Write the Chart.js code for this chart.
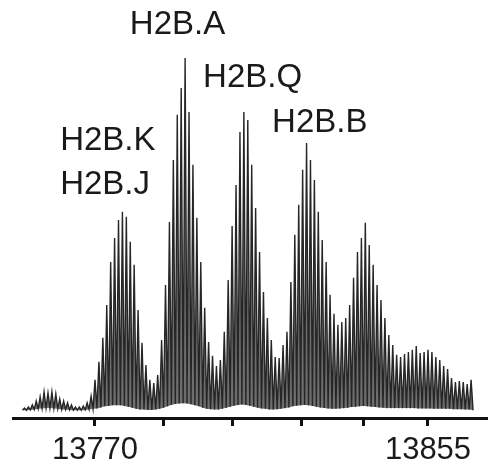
<!DOCTYPE html>
<html>
<head>
<meta charset="utf-8">
<script src="https://cdn.jsdelivr.net/npm/chart.js@4.4.1/dist/chart.umd.min.js"></script>
<style>
  html, body { margin: 0; padding: 0; background: #fff; }
  #wrap { width: 489px; height: 464px; position: relative; }
</style>
</head>
<body>
<div id="wrap"><canvas id="spec"></canvas></div>
<script>
// isotope peaks, 1 Da apart, starting mass
const firstMass = 13752;
// relative intensity (%) of each isotope peak
const peaks = [
  0.8, 1.1, 1.7, 2.8, 4.0, 5.4, 5.1, 5.4, 4.8, 3.4, 2.8, 2.3, 1.7, 1.1, 1.1, 1.4, 2.3,
  4.2, 8.8, 13.9, 20.7, 30.0, 42.2, 49.0, 54.1, 56.4, 55.0, 47.9, 41.4, 28.6, 19.3, 13.0, 8.8, 7.9, 10.2, 20.1,
  35.7, 53.5, 71.1, 83.9, 91.5, 100, 84.7, 69.7, 54.7, 42.2, 29.2, 19.5, 15.6, 12.7, 14.4,
  22.4, 37.1, 52.4, 64.0, 79.0, 84.7, 82.4, 69.7, 57.5, 45.0, 33.7, 26.3, 20.1, 15.3, 15.0, 18.7,
  22.4, 36.5, 49.9, 58.4, 68.3, 75.9, 71.1, 65.4, 56.4, 48.4, 42.2, 32.9, 27.5, 24.4, 25.2, 26.3,
  30.0, 37.7, 45.0, 49.0, 53.3, 47.0, 41.4, 35.7, 31.4, 26.3, 21.5, 18.7, 15.9, 15.3, 16.1, 16.7,
  17.3, 18.4, 16.4, 16.7, 17.3, 16.7, 15.3, 14.4, 12.7, 11.9, 9.3, 8.2, 8.5, 8.2, 7.6, 8.8
];
// minima between peaks (one before first peak, then one after each peak)
const valleys = [
  0.2,
  0.2, 0.3, 0.4, 0.6, 0.7, 0.8, 0.8, 0.7, 0.6, 0.4, 0.4, 0.3, 0.2, 0.2, 0.2, 0.3, 0.4,
  0.6, 0.7, 1.0, 1.3, 1.4, 1.6, 1.6, 1.6, 1.4, 1.2, 0.9, 0.6, 0.4, 0.4, 0.3, 0.3, 0.4, 0.6, 0.9,
  1.3, 1.7, 2.0, 2.1, 2.2, 2.1, 1.9, 1.6, 1.3, 0.9, 0.6, 0.5, 0.4, 0.4, 0.6,
  0.9, 1.2, 1.5, 1.7, 1.8, 1.7, 1.5, 1.2, 0.9, 0.7, 0.6, 0.4, 0.4, 0.5, 0.6, 0.8,
  1.0, 1.3, 1.5, 1.6, 1.7, 1.6, 1.4, 1.2, 1.0, 0.8, 0.7, 0.6, 0.6, 0.7, 0.8, 0.9,
  1.1, 1.2, 1.3, 1.4, 1.3, 1.2, 1.1, 1.0, 0.9, 0.8, 0.8, 0.8, 0.8, 0.8, 0.8, 0.8,
  0.8, 0.7, 0.7, 0.7, 0.7, 0.6, 0.6, 0.6, 0.6, 0.6, 0.5, 0.5, 0.5, 0.4, 0.4, 0.2
];
const tickValues = [13770, 13787.4, 13805.2, 13822.8, 13838.6, 13855];
const labeledTicks = [13770, 13855];

// variant names, left edge (Da) and baseline height (%) of each label
const variantNames = ["H2B.A", "H2B.Q", "H2B.B", "H2B.K", "H2B.J"];
const variantMass = [13778.9, 13797.6, 13815.2, 13761.1, 13761.1];
const variantLevel = [106.8, 91.8, 79.0, 73.9, 61.5];

// spectrum as profile: valley - peak - valley ...
const profile = [{ x: firstMass - 0.5, y: valleys[0] }];
const floor = [{ x: firstMass - 0.5, y: valleys[0] }];
peaks.forEach((p, i) => {
    const m = firstMass + i;
    profile.push({ x: m, y: p });
    profile.push({ x: m + 0.5, y: valleys[i + 1] });
    floor.push({ x: m + 0.5, y: valleys[i + 1] });
});

const labelPlugin = {
    id: "variantLabels",
    afterDatasetsDraw(chart) {
        const ctx = chart.ctx, xs = chart.scales.x, ys = chart.scales.y;
        ctx.save();
        ctx.font = '33px "Liberation Sans", Arial, sans-serif';
        ctx.fillStyle = "#1a1a1a";
        ctx.textAlign = "left";
        ctx.textBaseline = "alphabetic";
        variantNames.forEach((name, i) => {
            ctx.fillText(name, xs.getPixelForValue(variantMass[i]), ys.getPixelForValue(variantLevel[i]));
        });
        ctx.restore();
    }
};

new Chart(document.getElementById("spec"), {
    type: "line",
    data: {
        datasets: [
            { data: profile, borderColor: "#262626", borderWidth: 1.4, backgroundColor: "#6e6e6e",
              fill: "+1", pointRadius: 0, tension: 0 },
            { data: floor, borderWidth: 0, borderColor: "rgba(0,0,0,0)", pointRadius: 0, fill: false }
        ]
    },
    options: {
        responsive: true,
        maintainAspectRatio: false,
        animation: false,
        layout: { padding: { left: 13, right: 2, top: 0, bottom: 0 } },
        plugins: { legend: { display: false }, tooltip: { enabled: false } },
        scales: {
            x: {
                type: "linear",
                min: 13749.07,
                max: 13870.06,
                afterBuildTicks: axis => { axis.ticks = tickValues.map(v => ({ value: v })); },
                afterFit: axis => { axis.height = 46; },
                border: { display: true, color: "#111", width: 3 },
                grid: { display: true, drawOnChartArea: false, drawTicks: true, tickLength: 8, tickWidth: 3, tickColor: "#111" },
                ticks: {
                    autoSkip: false,
                    maxRotation: 0,
                    padding: 9,
                    color: "#1a1a1a",
                    font: { family: '"Liberation Sans", Arial, sans-serif', size: 31, lineHeight: 1 },
                    callback: v => labeledTicks.includes(v) ? String(v) : ""
                }
            },
            y: { display: false, min: -2, max: 116.4 }
        }
    },
    plugins: [labelPlugin]
});
</script>
</body>
</html>
